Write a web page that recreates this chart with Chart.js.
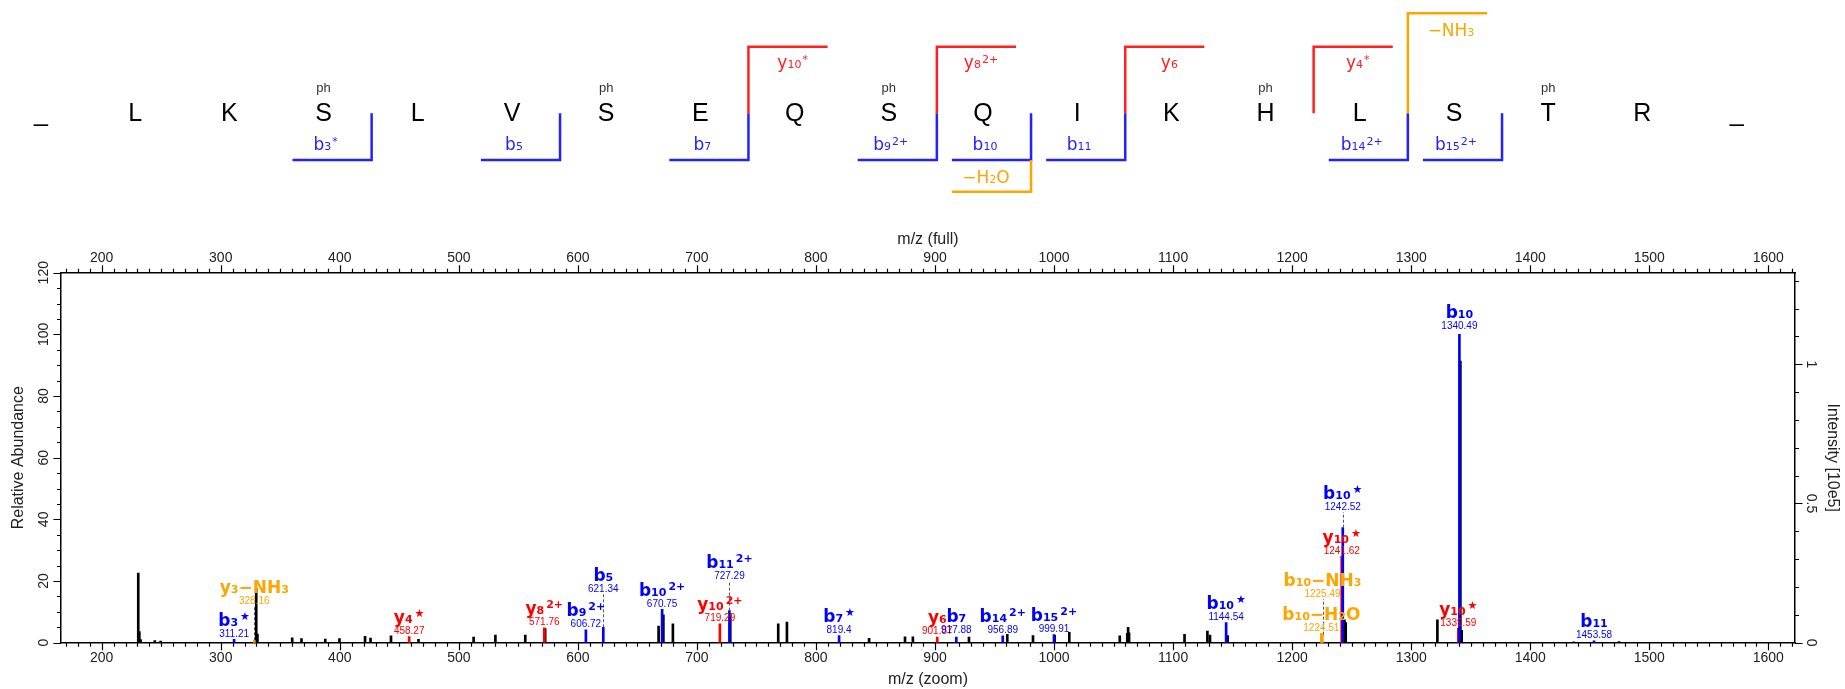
<!DOCTYPE html>
<html>
<head>
<meta charset="utf-8">
<title>Annotated MS/MS spectrum</title>
<script src="https://cdn.jsdelivr.net/npm/chart.js@4.4.1/dist/chart.umd.min.js"></script>
<style>
  html, body { margin: 0; padding: 0; background: #fff; overflow: hidden; }
  #wrap { position: relative; width: 1845px; height: 689px; }
  #seq { position: absolute; left: 0; top: 0; }
  #spec { position: absolute; left: 0; top: 228px; }
</style>
</head>
<body>
<div id="wrap">
  <canvas id="seq" width="1845" height="228"></canvas>
  <canvas id="spec" width="1845" height="461"></canvas>
</div>
<script>
// ---------- peptide sequence / fragment coverage ----------
const residues = ["_", "L", "K", "S", "L", "V", "S", "E", "Q", "S", "Q", "I", "K", "H", "L", "S", "T", "R", "_"];
const phosphoSites = [3, 6, 9, 13, 16];
const bGaps = [3, 5, 7, 9, 10, 11, 14, 15];
const bNames = ["b_3^*", "b_5", "b_7", "b_9^2+", "b_10", "b_11", "b_14^2+", "b_15^2+"];
const yGaps = [7, 9, 11, 13];
const yNames = ["y_10^*", "y_8^2+", "y_6", "y_4^*"];
const lossGaps = [10, 14];
const lossSides = ["b", "y"];
const lossNames = ["−H_2O", "−NH_3"];

// ---------- spectrum: annotated ions ----------
const ionMz = [311.21, 328.16, 458.27, 571.76, 606.72, 621.34, 670.75, 719.29, 727.29, 819.4, 901.87, 917.88, 956.89, 999.91, 1144.54, 1224.51, 1225.49, 1241.62, 1242.52, 1339.59, 1340.49, 1453.58];
const ionAbund = [1.1, 0.8, 2.0, 4.8, 4.2, 5.0, 10.8, 6.1, 10.4, 2.3, 1.8, 1.8, 2.2, 2.6, 6.5, 3.0, 2.6, 28.0, 37.3, 4.7, 100, 0.6];
const ionSeries = ["b", "loss", "y", "y", "b", "b", "b", "y", "b", "b", "y", "b", "b", "b", "b", "loss", "loss", "y", "b", "y", "b", "b"];
const ionNames = ["b_3^*", "y_3−NH_3", "y_4^*", "y_8^2+", "b_9^2+", "b_5", "b_10^2+", "y_10^2+", "b_11^2+", "b_7^*", "y_6", "b_7", "b_14^2+", "b_15^2+", "b_10^*", "b_10−H_2O", "b_10−NH_3", "y_10^*", "b_10^*", "y_10^*", "b_10", "b_11"];

// ---------- spectrum: unassigned peaks ----------
const peakMz = [230.7, 231.6, 232.6, 244.6, 249.5, 329.8, 330.8, 360.0, 367.8, 387.8, 399.7, 421.2, 425.8, 443.0, 466.1, 512.4, 530.7, 555.8, 572.5, 667.8, 671.8, 679.8, 728.0, 768.3, 775.6, 844.6, 874.8, 881.4, 928.5, 960.7, 982.3, 1000.5, 1012.8, 1055.2, 1061.5, 1062.2, 1063.0, 1109.6, 1128.8, 1131.0, 1145.8, 1243.9, 1245.0, 1322.0, 1341.3, 1342.4, 1436.6, 1474.6];
const peakAbund = [22.6, 3.6, 1.0, 0.7, 0.5, 17.6, 2.8, 1.6, 1.3, 1.2, 1.3, 2.1, 1.5, 2.2, 1.1, 1.8, 2.5, 2.5, 4.6, 5.4, 9.0, 6.1, 9.3, 6.1, 6.7, 1.4, 1.9, 1.9, 1.8, 2.7, 2.3, 2.4, 3.4, 2.2, 3.0, 5.0, 3.2, 2.7, 3.8, 2.5, 2.3, 7.4, 6.5, 7.4, 91.3, 4.0, 0.3, 0.4];

// ---------- axes ----------
const xTickLabels = [200, 300, 400, 500, 600, 700, 800, 900, 1000, 1100, 1200, 1300, 1400, 1500, 1600];
const yTickLabels = [0, 20, 40, 60, 80, 100, 120];
const intensityTickLabels = [0, 0.5, 1];
const ABUND_PER_1E5 = 90.3; // relative abundance that equals 1 x 10e5 counts

// label layout: relative abundance where each m/z caption sits
const ionLabelLevel = [1.9, 12.6, 2.9, 5.8, 5.2, 16.6, 11.6, 6.9, 20.6, 3.1, 2.7, 3.1, 3.1, 3.6, 7.4, 3.7, 14.8, 28.9, 43.0, 5.4, 101.7, 1.5];

const X_MIN = 165.8;
const X_MAX = 1622.4;
const SANS = "'DejaVu Sans', Verdana, sans-serif";
const ARIAL = "'Liberation Sans', Arial, sans-serif";
const TEXT = "#222";
const SERIES_COLOR = { b: "#0000ff", y: "#ff0000", loss: "#ffa500" };
const SEQ_COLOR = { b: "#2222ff", y: "#ff2020", loss: "#ffa500" };

// "b_10^2+" -> b, subscript 10, superscript 2+
const drawRich = (ctx, label, x, y, style) => {
  const tokens = label.match(/_\d+|\^.+$|[^_^]+/g);
  const pieces = tokens.map((t) => {
    if (t[0] === "_") return { text: t.slice(1), font: style.small, dy: 0, gap: 0 };
    if (t[0] === "^") {
      const star = style.star && t === "^*";
      return { text: star ? "★" : t.slice(1), font: style.small, dy: -style.raise, gap: style.gap };
    }
    return { text: t, font: style.big, dy: 0, gap: 0 };
  });
  let w = 0;
  pieces.forEach((p) => {
    ctx.font = p.font;
    p.w = ctx.measureText(p.text).width;
    w += p.w + p.gap;
  });
  let cx = x - w / 2;
  ctx.textAlign = "left";
  ctx.textBaseline = "alphabetic";
  pieces.forEach((p) => {
    cx += p.gap;
    ctx.font = p.font;
    ctx.fillText(p.text, cx, y + p.dy);
    cx += p.w;
  });
};

// ---------- top panel ----------
const RES_PITCH = 94.2; // px between residues
const FIRST_RES_X = 41;
const ROW = { nlTop: 13.3, yLine: 46.7, nlLabel: 35.5, yLabel: 67.5, ph: 92, mid: 113.3, letter: 120.5, bLabel: 150, bLine: 160, nlLabelLow: 183.3, nlBottom: 191.7 };
const ARM = 0.84; // bracket arm, in residues

const sequenceDecor = {
  id: "sequenceDecor",
  afterDraw(chart) {
    const { ctx } = chart;
    const sx = chart.scales.x;
    const sy = chart.scales.y;
    const px = (i) => sx.getPixelForValue(i);
    const py = (v) => sy.getPixelForValue(v);
    const gapX = (g) => px(g + 0.51);
    ctx.save();

    ctx.fillStyle = "#000";
    ctx.textAlign = "center";
    ctx.textBaseline = "alphabetic";
    ctx.font = `25px ${ARIAL}`;
    residues.forEach((r, i) => ctx.fillText(r, px(i), py(ROW.letter)));
    ctx.font = `13px ${ARIAL}`;
    ctx.fillStyle = "#333";
    phosphoSites.forEach((i) => ctx.fillText("ph", px(i), py(ROW.ph)));

    ctx.lineWidth = 2.5;
    ctx.lineJoin = "miter";
    const labelStyle = { big: `17px ${SANS}`, small: `11px ${SANS}`, raise: 5, gap: 1, star: false };

    bGaps.forEach((g, k) => {
      const gx = gapX(g);
      ctx.strokeStyle = SEQ_COLOR.b;
      ctx.beginPath();
      ctx.moveTo(px(g + 0.51 - ARM), py(ROW.bLine));
      ctx.lineTo(gx, py(ROW.bLine));
      ctx.lineTo(gx, py(ROW.mid));
      ctx.stroke();
      ctx.fillStyle = SEQ_COLOR.b;
      drawRich(ctx, bNames[k], px(g) + 2, py(ROW.bLabel), labelStyle);
    });

    yGaps.forEach((g, k) => {
      const gx = gapX(g);
      ctx.strokeStyle = SEQ_COLOR.y;
      ctx.beginPath();
      ctx.moveTo(gx, py(ROW.mid));
      ctx.lineTo(gx, py(ROW.yLine));
      ctx.lineTo(px(g + 0.51 + ARM), py(ROW.yLine));
      ctx.stroke();
      ctx.fillStyle = SEQ_COLOR.y;
      drawRich(ctx, yNames[k], px(g + 1) - 2, py(ROW.yLabel), labelStyle);
    });

    lossGaps.forEach((g, k) => {
      const gx = gapX(g);
      ctx.strokeStyle = SEQ_COLOR.loss;
      ctx.fillStyle = SEQ_COLOR.loss;
      ctx.beginPath();
      if (lossSides[k] === "b") {
        ctx.moveTo(px(g + 0.51 - ARM), py(ROW.nlBottom));
        ctx.lineTo(gx, py(ROW.nlBottom));
        ctx.lineTo(gx, py(ROW.bLine));
        ctx.stroke();
        drawRich(ctx, lossNames[k], px(g) + 3, py(ROW.nlLabelLow), labelStyle);
      } else {
        ctx.moveTo(gx, py(ROW.mid));
        ctx.lineTo(gx, py(ROW.nlTop));
        ctx.lineTo(px(g + 0.51 + ARM), py(ROW.nlTop));
        ctx.stroke();
        drawRich(ctx, lossNames[k], px(g + 1) - 3, py(ROW.nlLabel), labelStyle);
      }
    });
    ctx.restore();
  },
};

new Chart(document.getElementById("seq"), {
  type: "scatter",
  data: { datasets: [] },
  options: {
    responsive: false,
    devicePixelRatio: 1,
    animation: false,
    events: [],
    layout: { padding: 0 },
    plugins: { legend: { display: false }, tooltip: { enabled: false } },
    scales: {
      x: { type: "linear", display: false, min: -FIRST_RES_X / RES_PITCH, max: (1845 - FIRST_RES_X) / RES_PITCH },
      y: { type: "linear", display: false, min: 0, max: 228, reverse: true },
    },
  },
  plugins: [sequenceDecor],
});

// ---------- spectrum ----------
const ionPoints = (series) =>
  ionMz.map((m, i) => ({ x: m, y: ionAbund[i], s: ionSeries[i] })).filter((p) => p.s === series).map((p) => ({ x: p.x, y: p.y }));

const spectrumDecor = {
  id: "spectrumDecor",
  afterDatasetsDraw(chart) {
    const { ctx, chartArea: a } = chart;
    const { x, y, yInt } = chart.scales;
    ctx.save();

    // dashed connectors from peak to caption
    ctx.strokeStyle = "#555";
    ctx.lineWidth = 1;
    ctx.setLineDash([3, 2]);
    ionMz.forEach((m, i) => {
      if (ionLabelLevel[i] - ionAbund[i] < 3) return;
      const xp = Math.round(x.getPixelForValue(m)) + 0.5;
      ctx.beginPath();
      ctx.moveTo(xp, y.getPixelForValue(ionAbund[i]));
      ctx.lineTo(xp, y.getPixelForValue(ionLabelLevel[i]) + 2);
      ctx.stroke();
    });
    ctx.setLineDash([]);

    // ion captions
    const ionStyle = { big: `bold 17px ${SANS}`, small: `bold 11px ${SANS}`, raise: 6, gap: 2, star: true };
    ionMz.forEach((m, i) => {
      const xp = x.getPixelForValue(m);
      const yp = y.getPixelForValue(ionLabelLevel[i]);
      ctx.fillStyle = SERIES_COLOR[ionSeries[i]];
      ctx.textAlign = "center";
      ctx.textBaseline = "alphabetic";
      ctx.font = `10px ${ARIAL}`;
      ctx.fillText(String(m), xp, yp);
      drawRich(ctx, ionNames[i], xp, yp - 11, ionStyle);
    });

    // tick marks, pointing outwards
    ctx.strokeStyle = "#000";
    ctx.lineWidth = 1.2;
    ctx.beginPath();
    for (let m = Math.ceil(x.min / 10) * 10; m <= x.max; m += 10) {
      const xp = Math.round(x.getPixelForValue(m)) + 0.5;
      const len = xTickLabels.includes(m) ? 7.5 : 4;
      ctx.moveTo(xp, a.bottom);
      ctx.lineTo(xp, a.bottom + len);
      ctx.moveTo(xp, a.top);
      ctx.lineTo(xp, a.top - len);
    }
    for (let v = 0; v <= y.max; v += 5) {
      const yp = Math.round(y.getPixelForValue(v)) + 0.5;
      const len = yTickLabels.includes(v) ? 7.5 : 4;
      ctx.moveTo(a.left, yp);
      ctx.lineTo(a.left - len, yp);
    }
    for (let k = 0; k / 10 <= yInt.max; k++) {
      const yp = Math.round(yInt.getPixelForValue(k / 10)) + 0.5;
      const len = k % 5 === 0 ? 7.5 : 4;
      ctx.moveTo(a.right, yp);
      ctx.lineTo(a.right + len, yp);
    }
    ctx.stroke();

    // rotated tick labels on the vertical axes
    ctx.fillStyle = TEXT;
    ctx.font = `14px ${ARIAL}`;
    ctx.textAlign = "center";
    ctx.textBaseline = "middle";
    yTickLabels.forEach((v) => {
      ctx.save();
      ctx.translate(44, y.getPixelForValue(v));
      ctx.rotate(-Math.PI / 2);
      ctx.fillText(String(v), 0, 0);
      ctx.restore();
    });
    intensityTickLabels.forEach((v) => {
      ctx.save();
      ctx.translate(1811, yInt.getPixelForValue(v));
      ctx.rotate(Math.PI / 2);
      ctx.fillText(String(v), 0, 0);
      ctx.restore();
    });
    ctx.restore();
  },
};

const axisBorder = { display: true, color: "#000", width: 1.5 };
const noGrid = { display: false, drawTicks: false };
const xTicks = (pad) => ({
  autoSkip: false,
  maxRotation: 0,
  padding: pad,
  color: TEXT,
  font: { family: ARIAL, size: 14 },
  callback: (v) => String(v),
});
const titleFont = { family: ARIAL, size: 16 };

new Chart(document.getElementById("spec"), {
  type: "bar",
  data: {
    datasets: [
      { label: "b ions", data: ionPoints("b"), backgroundColor: SERIES_COLOR.b, order: 0 },
      { label: "y ions", data: ionPoints("y"), backgroundColor: SERIES_COLOR.y, order: 0 },
      { label: "neutral loss", data: ionPoints("loss"), backgroundColor: SERIES_COLOR.loss, order: 0 },
      { label: "unassigned", data: peakMz.map((m, i) => ({ x: m, y: peakAbund[i] })), backgroundColor: "#000", order: 1 },
    ],
  },
  options: {
    responsive: false,
    devicePixelRatio: 1,
    animation: false,
    events: [],
    layout: { padding: 0 },
    datasets: { bar: { barThickness: 2, grouped: false, borderWidth: 0 } },
    plugins: { legend: { display: false }, tooltip: { enabled: false }, title: { display: false } },
    scales: {
      x: {
        type: "linear",
        position: "bottom",
        min: X_MIN,
        max: X_MAX,
        offset: false,
        grid: noGrid,
        border: axisBorder,
        ticks: xTicks(7.4),
        afterBuildTicks: (s) => { s.ticks = xTickLabels.map((v) => ({ value: v })); },
        title: { display: true, text: "m/z (zoom)", color: TEXT, font: titleFont, padding: { top: 0, bottom: 0 } },
        afterFit: (s) => { s.height = 46.3; },
      },
      xTop: {
        type: "linear",
        position: "top",
        min: X_MIN,
        max: X_MAX,
        offset: false,
        grid: noGrid,
        border: axisBorder,
        ticks: xTicks(5.8),
        afterBuildTicks: (s) => { s.ticks = xTickLabels.map((v) => ({ value: v })); },
        title: { display: true, text: "m/z (full)", color: TEXT, font: titleFont, padding: { top: 2.4, bottom: 0 } },
        afterFit: (s) => { s.height = 44.7; },
      },
      y: {
        type: "linear",
        position: "left",
        min: 0,
        max: 120,
        grid: noGrid,
        border: axisBorder,
        ticks: { display: false },
        title: { display: true, text: "Relative Abundance", color: TEXT, font: titleFont, padding: { top: 9.4, bottom: 0 } },
        afterFit: (s) => { s.width = 61; },
      },
      yInt: {
        type: "linear",
        position: "right",
        min: 0,
        max: 120 / ABUND_PER_1E5,
        grid: noGrid,
        border: axisBorder,
        ticks: { display: false },
        title: { display: true, text: "Intensity [10e5]", color: TEXT, font: titleFont, padding: { top: 3.4, bottom: 0 } },
        afterFit: (s) => { s.width = 50; },
      },
    },
  },
  plugins: [spectrumDecor],
});
</script>
</body>
</html>
